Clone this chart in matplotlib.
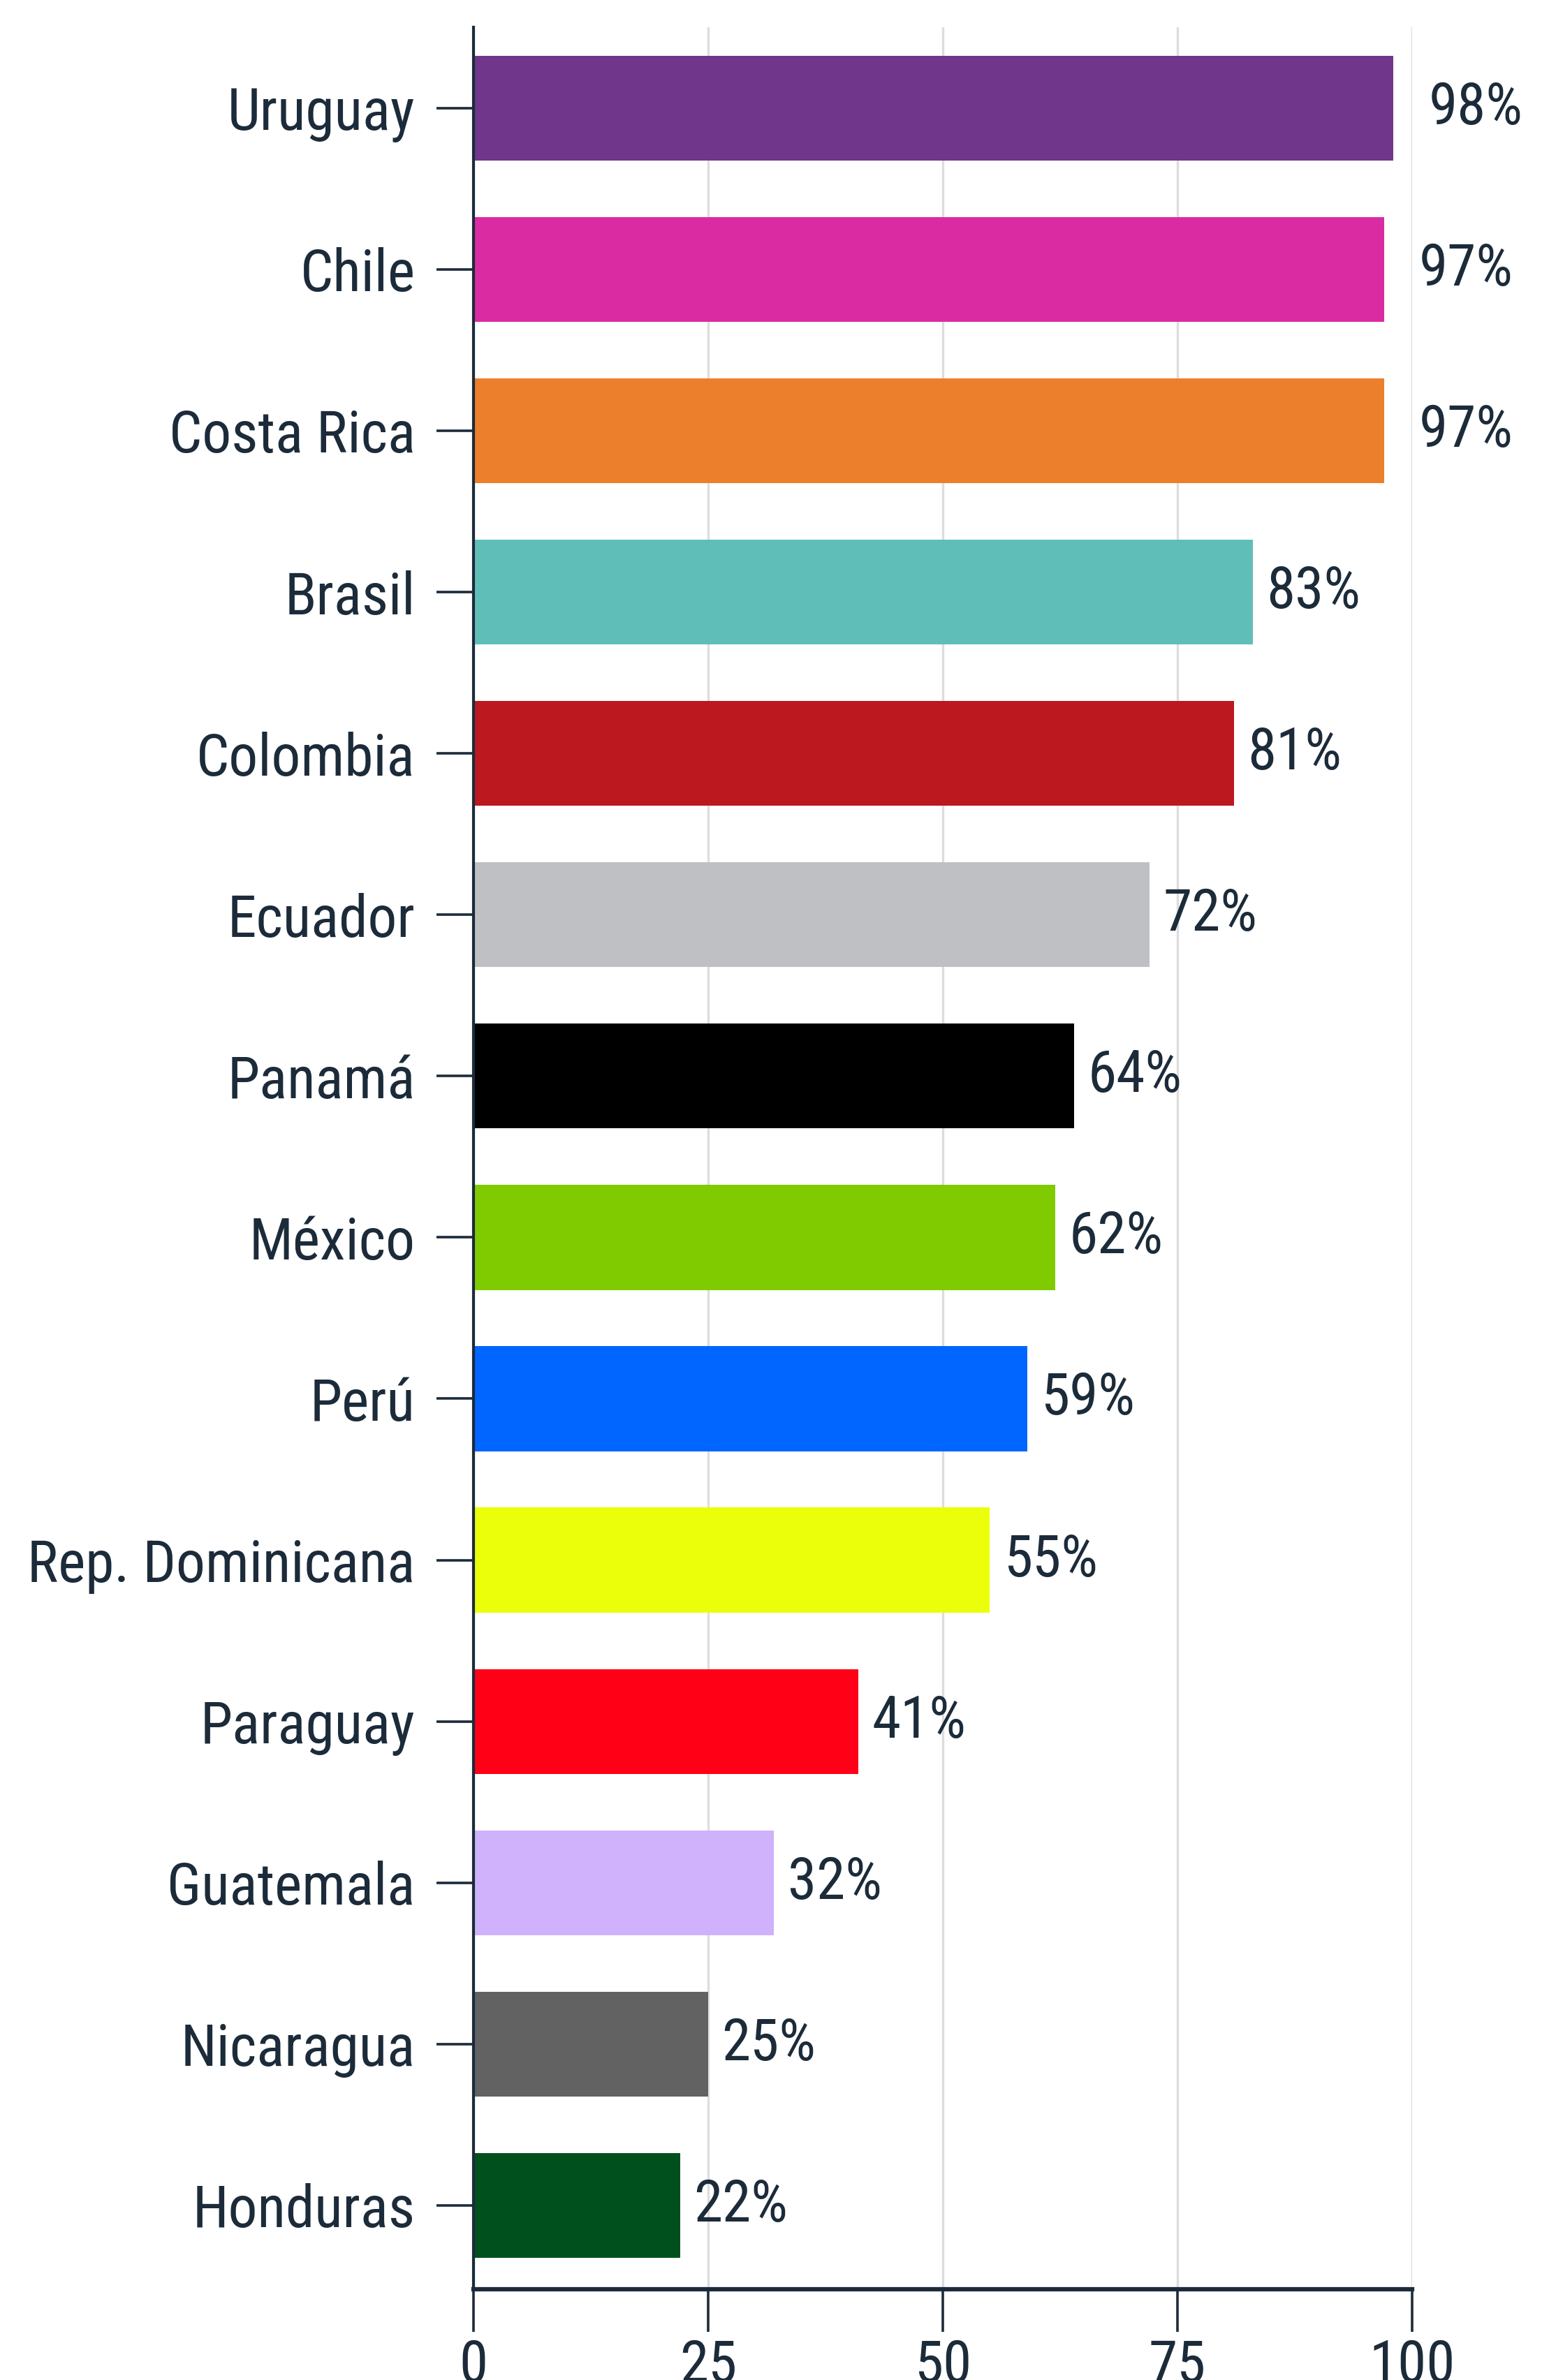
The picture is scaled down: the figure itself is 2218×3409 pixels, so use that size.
import matplotlib
matplotlib.use("Agg")
import matplotlib.pyplot as plt

plt.rcParams["font.family"] = ["Roboto Condensed", "Liberation Sans Narrow", "Roboto", "DejaVu Sans"]

countries = ["Uruguay", "Chile", "Costa Rica", "Brasil", "Colombia", "Ecuador", "Panamá",
             "México", "Perú", "Rep. Dominicana", "Paraguay", "Guatemala", "Nicaragua", "Honduras"]
values = [98, 97, 97, 83, 81, 72, 64, 62, 59, 55, 41, 32, 25, 22]
colors = ["#70368C", "#DB2BA3", "#EB7F2B", "#60BEB8", "#BC1820", "#BFC0C4", "#000000",
          "#7FCB00", "#0066FF", "#EBFF0A", "#FF0016", "#CFB1FC", "#626262", "#00501E"]
xticks = [0, 25, 50, 75, 100]

INK = "#1c2b3a"
# label gap (points) - the long bars keep their labels clear of the 100 gridline
label_pad = [36 if v > 90 else 14 for v in values]

fig = plt.figure(figsize=(22.18, 34.09), dpi=100, facecolor="white")
ax = fig.add_axes([0.3057, 0.0381, 0.606, 0.9504])

ypos = list(range(len(countries)))
ax.barh(ypos, values, height=0.65, color=colors, zorder=3)

for y, v, pad in zip(ypos, values, label_pad):
    ax.annotate(f"{v}%", (v, y), xytext=(pad, 0), textcoords="offset points",
                ha="left", va="center", fontsize=60, color=INK)

ax.set_xlim(0, 100)
ax.set_ylim(len(countries) - 0.48, -0.5)
ax.set_yticks(ypos)
ax.set_yticklabels(countries)
ax.set_xticks(xticks)
ax.set_xticklabels([str(t) for t in xticks])

ax.grid(axis="x", color="#dddddd", linewidth=2.4, zorder=0)
ax.set_axisbelow(True)
for s in ["top", "right"]:
    ax.spines[s].set_visible(False)
ax.spines["left"].set_color(INK)
ax.spines["left"].set_linewidth(3)
ax.spines["left"].set_zorder(4)
ax.spines["bottom"].set_color(INK)
ax.spines["bottom"].set_linewidth(4.5)

ax.tick_params(axis="y", length=38, width=2.6, color=INK, pad=22, labelsize=60, labelcolor=INK)
ax.tick_params(axis="x", length=44, width=2.6, color=INK, pad=6, labelsize=60, labelcolor=INK)

fig.savefig("out.png", dpi=100, facecolor="white")
